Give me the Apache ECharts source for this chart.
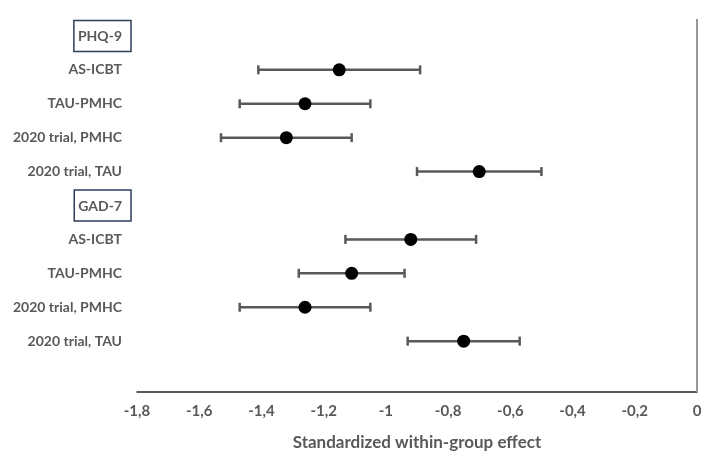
<!DOCTYPE html>
<html>
<head>
<meta charset="utf-8">
<script src="https://cdn.jsdelivr.net/npm/echarts@6/dist/echarts.min.js"></script>
<style>
  html, body { margin: 0; padding: 0; background: #fff; }
  #main { width: 720px; height: 474px; }
</style>
</head>
<body>
<div id="main"></div>
<script>
// rows top to bottom, headers have no values
var rows = ['PHQ-9', 'AS-ICBT', 'TAU-PMHC', '2020 trial, PMHC', '2020 trial, TAU',
            'GAD-7', 'AS-ICBT ', 'TAU-PMHC ', '2020 trial, PMHC ', '2020 trial, TAU ', ''];
var headers = ['PHQ-9', 'GAD-7'];

// effect sizes and 95% CI
var effect = [null, -1.15, -1.26, -1.32, -0.70, null, -0.92, -1.11, -1.26, -0.75, null];
var ciLow  = [null, -1.41, -1.47, -1.53, -0.90, null, -1.13, -1.28, -1.47, -0.93, null];
var ciHigh = [null, -0.89, -1.05, -1.11, -0.50, null, -0.71, -0.94, -1.05, -0.57, null];

var xMin = -1.8, xMax = 0, xStep = 0.2;

var myChart = echarts.init(document.getElementById('main'));

var pts = [], bars = [];
for (var i = 0; i < rows.length; i++) {
    if (effect[i] == null) continue;
    pts.push([effect[i], rows[i]]);
    bars.push([ciLow[i], ciHigh[i], rows[i]]);
}

var grey = '#595959';

option = {
    animation: false,
    grid: { left: 137, right: 23, top: 19, bottom: 82 },
    xAxis: {
        type: 'value',
        min: xMin,
        max: xMax,
        interval: xStep,
        name: 'Standardized within-group effect',
        nameLocation: 'middle',
        nameGap: 42,
        nameTextStyle: { fontFamily: 'Lato', fontWeight: 'bold', fontSize: 17, color: grey },
        axisLine: { show: true, onZero: false, lineStyle: { color: '#222', width: 1.5 } },
        axisTick: { show: false },
        splitLine: { show: false },
        axisLabel: {
            margin: 12,
            fontFamily: 'Lato', fontWeight: 'bold', fontSize: 15, color: grey,
            formatter: function (v) {
                return String(Math.round(v * 10) / 10).replace('.', ',');
            }
        }
    },
    yAxis: {
        type: 'category',
        data: rows,
        inverse: true,
        axisLine: { show: false },
        axisTick: { show: false },
        splitLine: { show: false },
        axisLabel: {
            interval: 0,
            margin: 6,
            formatter: function (v) {
                if (headers.indexOf(v) >= 0) return '{h|' + v + '}';
                return '{n|' + v.trim() + '}';
            },
            rich: {
                n: { fontFamily: 'Lato', fontWeight: 'bold', fontSize: 14, color: grey, padding: [0, 9, 0, 0] },
                h: {
                    fontFamily: 'Lato', fontWeight: 'bold', fontSize: 14, color: grey,
                    borderColor: '#2f3d5c', borderWidth: 1.5, padding: [9, 9, 8, 4]
                }
            }
        }
    },
    series: [
        {
            type: 'custom',
            data: bars,
            renderItem: function (params, api) {
                var a = api.coord([api.value(0), api.value(2)]);
                var b = api.coord([api.value(1), api.value(2)]);
                var h = 4.5;
                var st = { stroke: grey, lineWidth: 2.5 };
                return {
                    type: 'group',
                    children: [
                        { type: 'line', shape: { x1: a[0], y1: a[1], x2: b[0], y2: b[1] }, style: st },
                        { type: 'line', shape: { x1: a[0], y1: a[1] - h, x2: a[0], y2: a[1] + h }, style: st },
                        { type: 'line', shape: { x1: b[0], y1: b[1] - h, x2: b[0], y2: b[1] + h }, style: st }
                    ]
                };
            },
            z: 2
        },
        {
            type: 'scatter',
            data: pts,
            symbolSize: 13,
            itemStyle: { color: '#000', opacity: 1 },
            z: 3,
            markLine: {
                silent: true,
                symbol: 'none',
                label: { show: false },
                lineStyle: { color: '#9a9a9a', width: 2, type: 'solid' },
                data: [{ xAxis: 0 }]
            }
        }
    ]
};

myChart.setOption(option);
</script>
</body>
</html>
